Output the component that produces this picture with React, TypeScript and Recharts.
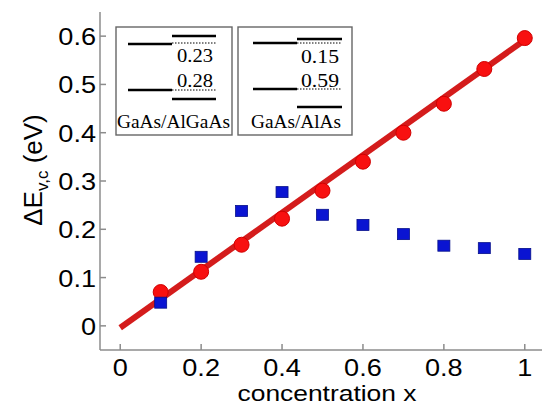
import React from 'react';
import { ComposedChart, Line, Scatter, XAxis, YAxis } from 'recharts';

// concentration x of the measured samples
const concentration = [0.1, 0.2, 0.3, 0.4, 0.5, 0.6, 0.7, 0.8, 0.9, 1.0];
// red circles (valence band offset)
const redValues = [0.07, 0.112, 0.168, 0.222, 0.28, 0.34, 0.4, 0.46, 0.532, 0.596];
// blue squares (conduction band offset)
const blueValues = [0.048, 0.143, 0.238, 0.277, 0.23, 0.209, 0.19, 0.166, 0.161, 0.149];
// linear fit end points
const fitX = [0, 1];
const fitY = [-0.004, 0.592];

const xTicks = [0, 0.2, 0.4, 0.6, 0.8, 1];
const yTicks = [0, 0.1, 0.2, 0.3, 0.4, 0.5, 0.6];

const redData = concentration.map((x, i) => ({ x, y: redValues[i] }));
const blueData = concentration.map((x, i) => ({ x, y: blueValues[i] }));
const fitData = fitX.map((x, i) => ({ x, y: fitY[i] }));

const FONT = '"Liberation Sans", Arial, sans-serif';
const SERIF = '"Liberation Serif", "Times New Roman", serif';
const AXIS = '#8c8c8c';
const STRETCH = 1.13;

const fmt = (v: number) => (v === 0 ? '0' : v === 1 ? '1' : String(v));

const XTick = (props: any) => {
  const { x, y, payload } = props;
  return (
    <text
      transform={`translate(${x},${y + 26}) scale(${STRETCH},1)`}
      textAnchor="middle"
      fontSize={24}
      fontFamily={FONT}
      fill="#000"
    >
      {fmt(payload.value)}
    </text>
  );
};

const YTick = (props: any) => {
  const { x, y, payload } = props;
  return (
    <text
      transform={`translate(${x - 4},${y + 9}) scale(${STRETCH},1)`}
      textAnchor="end"
      fontSize={24}
      fontFamily={FONT}
      fill="#000"
    >
      {fmt(payload.value)}
    </text>
  );
};

const NoTick = () => <g />;

const Square = (props: any) => {
  const { cx, cy } = props;
  return <rect x={cx - 6} y={cy - 5.5} width={12} height={11} fill="#0a14d2" stroke="#06108a" strokeWidth={0.8} />;
};

const Dot = (props: any) => {
  const { cx, cy } = props;
  return <circle cx={cx} cy={cy} r={7.5} fill="#f81010" stroke="#d00000" strokeWidth={1} />;
};

const Level = ({ x1, x2, y, w = 2.6, dotted = false }: any) => (
  <line
    x1={x1}
    x2={x2}
    y1={y}
    y2={y}
    stroke="#000"
    strokeWidth={dotted ? 1 : w}
    strokeDasharray={dotted ? '1.5 1.5' : undefined}
  />
);

const Overlay = () => (
  <svg width={542} height={406} style={{ position: 'absolute', left: 0, top: 0, pointerEvents: 'none' }}>
    <text transform="translate(42,170) rotate(-90)" textAnchor="middle" fontSize={26} fontFamily={FONT} fill="#000">
      ΔE
      <tspan fontSize={17} dy={6}>v,c</tspan>
      <tspan dy={-6}> (eV)</tspan>
    </text>
    <text
      transform="translate(327,401) scale(1.2,1)"
      textAnchor="middle"
      fontSize={22}
      fontFamily={FONT}
      fill="#000"
    >
      concentration x
    </text>

    {/* GaAs/AlGaAs box */}
    <rect x={116} y={27} width={116} height={108} fill="#fff" stroke="#666" strokeWidth={1.4} />
    <Level x1={128} x2={172} y={44} />
    <Level x1={172} x2={216} y={36} />
    <Level x1={172} x2={216} y={43} dotted />
    <Level x1={128} x2={172} y={90} />
    <Level x1={172} x2={216} y={90} dotted />
    <Level x1={172} x2={216} y={99} />
    <text x={177} y={62} fontSize={18} fontFamily={SERIF} textLength={36} lengthAdjust="spacingAndGlyphs">0.23</text>
    <text x={177} y={87} fontSize={18} fontFamily={SERIF} textLength={36} lengthAdjust="spacingAndGlyphs">0.28</text>
    <text x={117} y={128} fontSize={18} fontFamily={SERIF} textLength={113} lengthAdjust="spacingAndGlyphs">GaAs/AlGaAs</text>

    {/* GaAs/AlAs box */}
    <rect x={238} y={27} width={114} height={108} fill="#fff" stroke="#666" strokeWidth={1.4} />
    <Level x1={253} x2={297} y={43} />
    <Level x1={297} x2={342} y={39} />
    <Level x1={297} x2={342} y={43} dotted />
    <Level x1={253} x2={297} y={89} />
    <Level x1={297} x2={342} y={89} dotted />
    <Level x1={297} x2={342} y={107} />
    <text x={301} y={63} fontSize={18} fontFamily={SERIF} textLength={38} lengthAdjust="spacingAndGlyphs">0.15</text>
    <text x={301} y={87} fontSize={18} fontFamily={SERIF} textLength={38} lengthAdjust="spacingAndGlyphs">0.59</text>
    <text x={251} y={128} fontSize={18} fontFamily={SERIF} textLength={90} lengthAdjust="spacingAndGlyphs">GaAs/AlAs</text>
  </svg>
);

export default function App() {
  return (
    <div style={{ position: 'absolute', left: 0, top: 0, width: 542, height: 406, overflow: 'hidden', background: '#fff' }}>
      <ComposedChart width={550} height={406} margin={{ top: 12, right: 5, bottom: 0, left: 0 }}>
        <XAxis
          dataKey="x"
          type="number"
          domain={[-0.05, 1.05]}
          ticks={xTicks}
          allowDataOverflow
          height={56}
          tickSize={-6}
          tickMargin={6}
          tick={XTick}
          stroke={AXIS}
          strokeWidth={1.5}
        />
        <XAxis
          xAxisId="top"
          orientation="top"
          type="number"
          domain={[-0.05, 1.05]}
          ticks={xTicks}
          allowDataOverflow
          height={0}
          tickSize={-6}
          tick={NoTick}
          stroke={AXIS}
          strokeWidth={1.5}
        />
        <YAxis
          dataKey="y"
          type="number"
          domain={[-0.05, 0.65]}
          ticks={yTicks}
          allowDataOverflow
          width={100}
          tickSize={-6}
          tickMargin={6}
          tick={YTick}
          stroke={AXIS}
          strokeWidth={1.5}
        />
        <YAxis
          yAxisId="right"
          orientation="right"
          type="number"
          domain={[-0.05, 0.65]}
          ticks={yTicks}
          allowDataOverflow
          width={0}
          tickSize={-6}
          tick={NoTick}
          stroke={AXIS}
          strokeWidth={1.5}
        />
        <Scatter data={redData} dataKey="y" shape={Dot} isAnimationActive={false} />
        <Line
          data={fitData}
          dataKey="y"
          type="linear"
          stroke="#d41c1c"
          strokeWidth={6}
          dot={false}
          isAnimationActive={false}
        />
        <Scatter data={blueData} dataKey="y" shape={Square} isAnimationActive={false} />
      </ComposedChart>
      <Overlay />
    </div>
  );
}
